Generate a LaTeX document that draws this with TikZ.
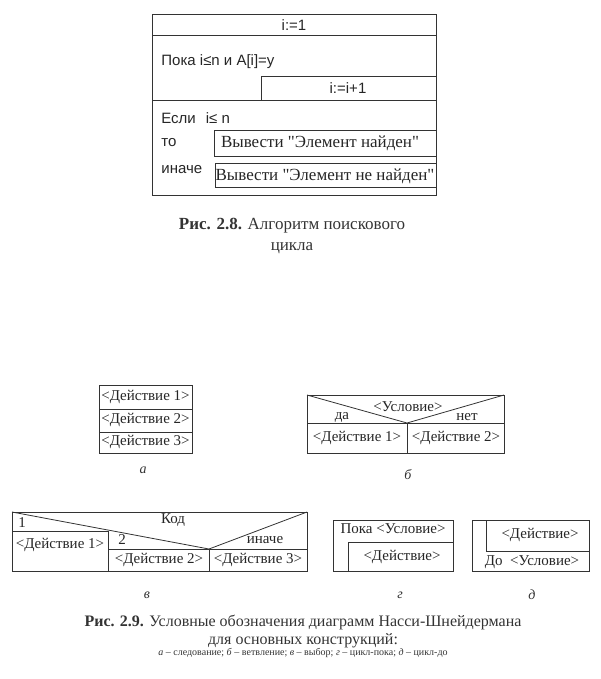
\documentclass[tikz,border=0pt]{standalone}
\usepackage{fontspec}
\setmainfont{Liberation Serif}
\newfontfamily\sansfnt{Liberation Sans}
\begin{document}
\begin{tikzpicture}[x=1pt,y=-1pt,line width=0.8pt]
			\tikzset{ns/.style={draw=black!80},
				txt/.style={font=\fontsize{15pt}{17pt}\selectfont,inner sep=0pt,text=black!85},
				btxt/.style={font=\fontsize{17pt}{19pt}\selectfont,inner sep=0pt,text=black!85},
				stxt/.style={font=\sansfnt\fontsize{15pt}{17pt}\selectfont,inner sep=0pt,text=black!85},
				captxt/.style={font=\fontsize{16pt}{18pt}\selectfont,inner sep=0pt,text=black!80,align=center},
				sub/.style={font=\itshape\fontsize{14pt}{16pt}\selectfont,inner sep=0pt,text=black!80}}
			\useasboundingbox (0,0) rectangle (600,679);
			% Рис. 2.8
			\draw[ns] (152,14) rectangle (436,195);
			\draw[ns] (152,35)--(436,35);
			\draw[ns] (152,100)--(436,100);
			\draw[ns] (261,100)--(261,76)--(436,76);
			\draw[ns] (214,130) rectangle (436,156);
			\draw[ns] (215,163) rectangle (436,187);
			\node[stxt] (init) at (294,25) {i:=1};
			\node[stxt,anchor=west] (loop) at (161,62) {Пока i≤n и A[i]=y};
			\node[stxt] (incr) at (348,88) {i:=i+1};
			\node[stxt,anchor=west] (cond) at (161,118) {Если\hspace{10pt}i≤ n};
			\node[stxt,anchor=west] (then) at (161,143) {то};
			\node[stxt,anchor=west] (else) at (161,170) {иначе};
			\node[btxt] (found) at (320,143) {Вывести \textquotedbl Элемент найден\textquotedbl};
			\node[btxt] (nfound) at (325,176) {Вывести \textquotedbl Элемент не найден\textquotedbl};
			\node[captxt,font=\fontsize{17pt}{21pt}\selectfont] (cap8) at (292,236) {\textbf{Рис. 2.8.} Алгоритм поискового\\цикла};
			% а -- следование
			\draw[ns] (99,385) rectangle (192,453);
			\draw[ns] (99,409)--(192,409);
			\draw[ns] (99,432)--(192,432);
			\foreach \y/\k in {397/1,420/2,442/3}
				\node[txt] (seq\k) at (145.5,\y) {<Действие \k>};
			\node[sub] (la) at (143,470) {а};
			% б -- ветвление
			\draw[ns] (307,395) rectangle (504,453);
			\draw[ns] (307,423)--(504,423);
			\draw[ns] (407,423)--(407,453);
			\draw[ns] (307,395)--(407,423)--(504,395);
			\node[txt] (bcond) at (408,407) {<Условие>};
			\node[txt] (yes) at (342,417) {да};
			\node[txt] (no) at (467,417) {нет};
			\node[txt] (bact1) at (357,438) {<Действие 1>};
			\node[txt] (bact2) at (456,438) {<Действие 2>};
			\node[sub] (lb) at (408,475) {б};
			% в -- выбор
			\draw[ns] (12,512) rectangle (307,571);
			\draw[ns] (12,531)--(108,531)--(108,571);
			\draw[ns] (108,549)--(307,549);
			\draw[ns] (209,549)--(209,571);
			\draw[ns] (12,512)--(209,549)--(307,512);
			\node[txt] (one) at (22,523) {1};
			\node[txt] (code) at (173,520) {Код};
			\node[txt] (two) at (122,540) {2};
			\node[txt] (other) at (265,540) {иначе};
			\node[txt] (cact1) at (60,545) {<Действие 1>};
			\node[txt] (cact2) at (159,560) {<Действие 2>};
			\node[txt] (cact3) at (258,560) {<Действие 3>};
			\node[sub] (lv) at (147,595) {в};
			% г -- цикл-пока
			\draw[ns] (333,520) rectangle (453,571);
			\draw[ns] (348,571)--(348,542)--(453,542);
			\node[txt] (wcond) at (393,529) {Пока <Условие>};
			\node[txt] (wact) at (402,557) {<Действие>};
			\node[sub] (lg) at (400,595) {г};
			% д -- цикл-до
			\draw[ns] (472,520) rectangle (589,571);
			\draw[ns] (486,520)--(486,551)--(589,551);
			\node[txt] (ract) at (540,535) {<Действие>};
			\node[txt] (rcond) at (532,562) {До\ \ <Условие>};
			\node[sub] (ld) at (532,595) {д};
			% подпись
			\node[captxt] (cap9) at (303,631) {\textbf{Рис. 2.9.} Условные обозначения диаграмм Насси-Шнейдермана\\для основных конструкций:};
			\node[font=\fontsize{10pt}{12pt}\selectfont,inner sep=0pt,text=black!80] (legend) at (303,653)
				{\textit{а} -- следование; \textit{б} -- ветвление; \textit{в} -- выбор; \textit{г} -- цикл-пока; \textit{д} -- цикл-до};
		\end{tikzpicture}
\end{document}
